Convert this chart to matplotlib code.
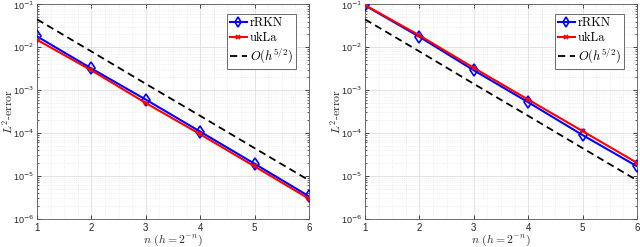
import matplotlib
matplotlib.use("Agg")
import matplotlib.pyplot as plt
from matplotlib.ticker import LogLocator, FixedLocator, NullFormatter

plt.rcParams['mathtext.fontset'] = 'cm'
plt.rcParams['font.family'] = ['DejaVu Sans']
plt.rcParams['axes.unicode_minus'] = False

n_vals = [1, 2, 3, 4, 5, 6]
left_rrkn = [1.8e-2, 3.2e-3, 6.0e-4, 1.07e-4, 1.9e-5, 3.3e-6]
left_ukla = [1.5e-2, 2.9e-3, 5.0e-4, 9.3e-5, 1.65e-5, 2.9e-6]
right_rrkn = [9.5e-2, 1.76e-2, 2.9e-3, 5.2e-4, 8.9e-5, 1.66e-5]
right_ukla = [9.7e-2, 1.9e-2, 3.3e-3, 6.0e-4, 1.1e-4, 2.0e-5]
ref_line = [4.5e-2, 8.0e-3, 1.4e-3, 2.5e-4, 4.4e-5, 7.8e-6]
ytick_vals = [1e-6, 1e-5, 1e-4, 1e-3, 1e-2, 1e-1]
ytick_labels = ['10$^{-6}$', '10$^{-5}$', '10$^{-4}$', '10$^{-3}$', '10$^{-2}$', '10$^{-1}$']
xtick_labels = ['1', '2', '3', '4', '5', '6']

W, H = 640, 247
fig = plt.figure(figsize=(W / 100, H / 100), dpi=100)
tick_color = '#262626'
tick_font = 'Liberation Sans'

def make_ax(rect, rrkn, ukla, leg_anchor):
    ax = fig.add_axes(rect)
    ax.set_yscale('log')
    ax.plot(n_vals, rrkn, color='blue', lw=1.5, marker='d', ms=6, mfc='none', mew=1.2,
            label='rRKN', zorder=4)
    ax.plot(n_vals, ukla, color='red', lw=1.5, marker='x', ms=3.5, mew=1.2,
            label='ukLa', zorder=5)
    ax.plot(n_vals, ref_line, color='black', lw=1.3, ls=(0, (4, 2.5)),
            label='$O(h^{5/2})$', zorder=3)
    ax.set_xlim(1, 6)
    ax.set_ylim(1e-6, 1e-1)
    ax.set_xticks(n_vals)
    ax.set_xticklabels(xtick_labels)
    ax.set_yticks(ytick_vals)
    ax.set_yticklabels(ytick_labels)
    for t in ax.get_xticklabels() + ax.get_yticklabels():
        t.set_fontfamily(tick_font)
        t.set_math_fontfamily('dejavusans')
    ax.yaxis.set_minor_locator(LogLocator(base=10, subs=range(2, 10), numticks=20))
    ax.yaxis.set_minor_formatter(NullFormatter())
    ax.xaxis.set_minor_locator(FixedLocator([1 + 0.25 * i for i in range(21)]))
    ax.grid(True, which='major', color='#dedede', lw=0.6)
    ax.grid(True, which='minor', color='#e4e4e4', lw=0.5, ls=':')
    ax.set_axisbelow(True)
    ax.tick_params(which='both', direction='in', top=True, right=True, colors=tick_color,
                   labelsize=7, labelcolor=tick_color, pad=3)
    ax.tick_params(which='major', length=3, width=0.6)
    ax.tick_params(which='minor', length=1.5, width=0.5)
    ax.tick_params(axis='x', which='minor', length=0)
    ax.tick_params(axis='y', pad=2, labelsize=6.5)
    for s in ax.spines.values():
        s.set_color('#555555')
        s.set_linewidth(0.6)
    ax.set_xlabel('$n$ $(h=2^{-n})$', fontsize=8.5, color='#262626', va='center')
    ax.xaxis.set_label_coords(0.5, -0.103)
    ax.set_ylabel('$L^2$-error', fontsize=8.5, family='cmr10', color='#262626',
                  va='center')
    ax.yaxis.set_label_coords(-0.107, 0.5)
    leg = ax.legend(loc='upper right', bbox_to_anchor=leg_anchor,
                    prop={'family': 'cmr10', 'size': 9},
                    fancybox=False, framealpha=1, edgecolor='#555555',
                    handlelength=1.35, handletextpad=0.25, borderpad=0.25, labelspacing=0.2,
                    borderaxespad=0, markerscale=0.8)
    leg.get_frame().set_linewidth(0.6)
    return ax

make_ax([37 / W, 1 - 218.5 / H, 272 / W, 214 / H], left_rrkn, left_ukla, (0.952, 0.955))
make_ax([365 / W, 1 - 218.5 / H, 272 / W, 214 / H], right_rrkn, right_ukla, (0.951, 0.955))

fig.savefig('out.png', dpi=100)
